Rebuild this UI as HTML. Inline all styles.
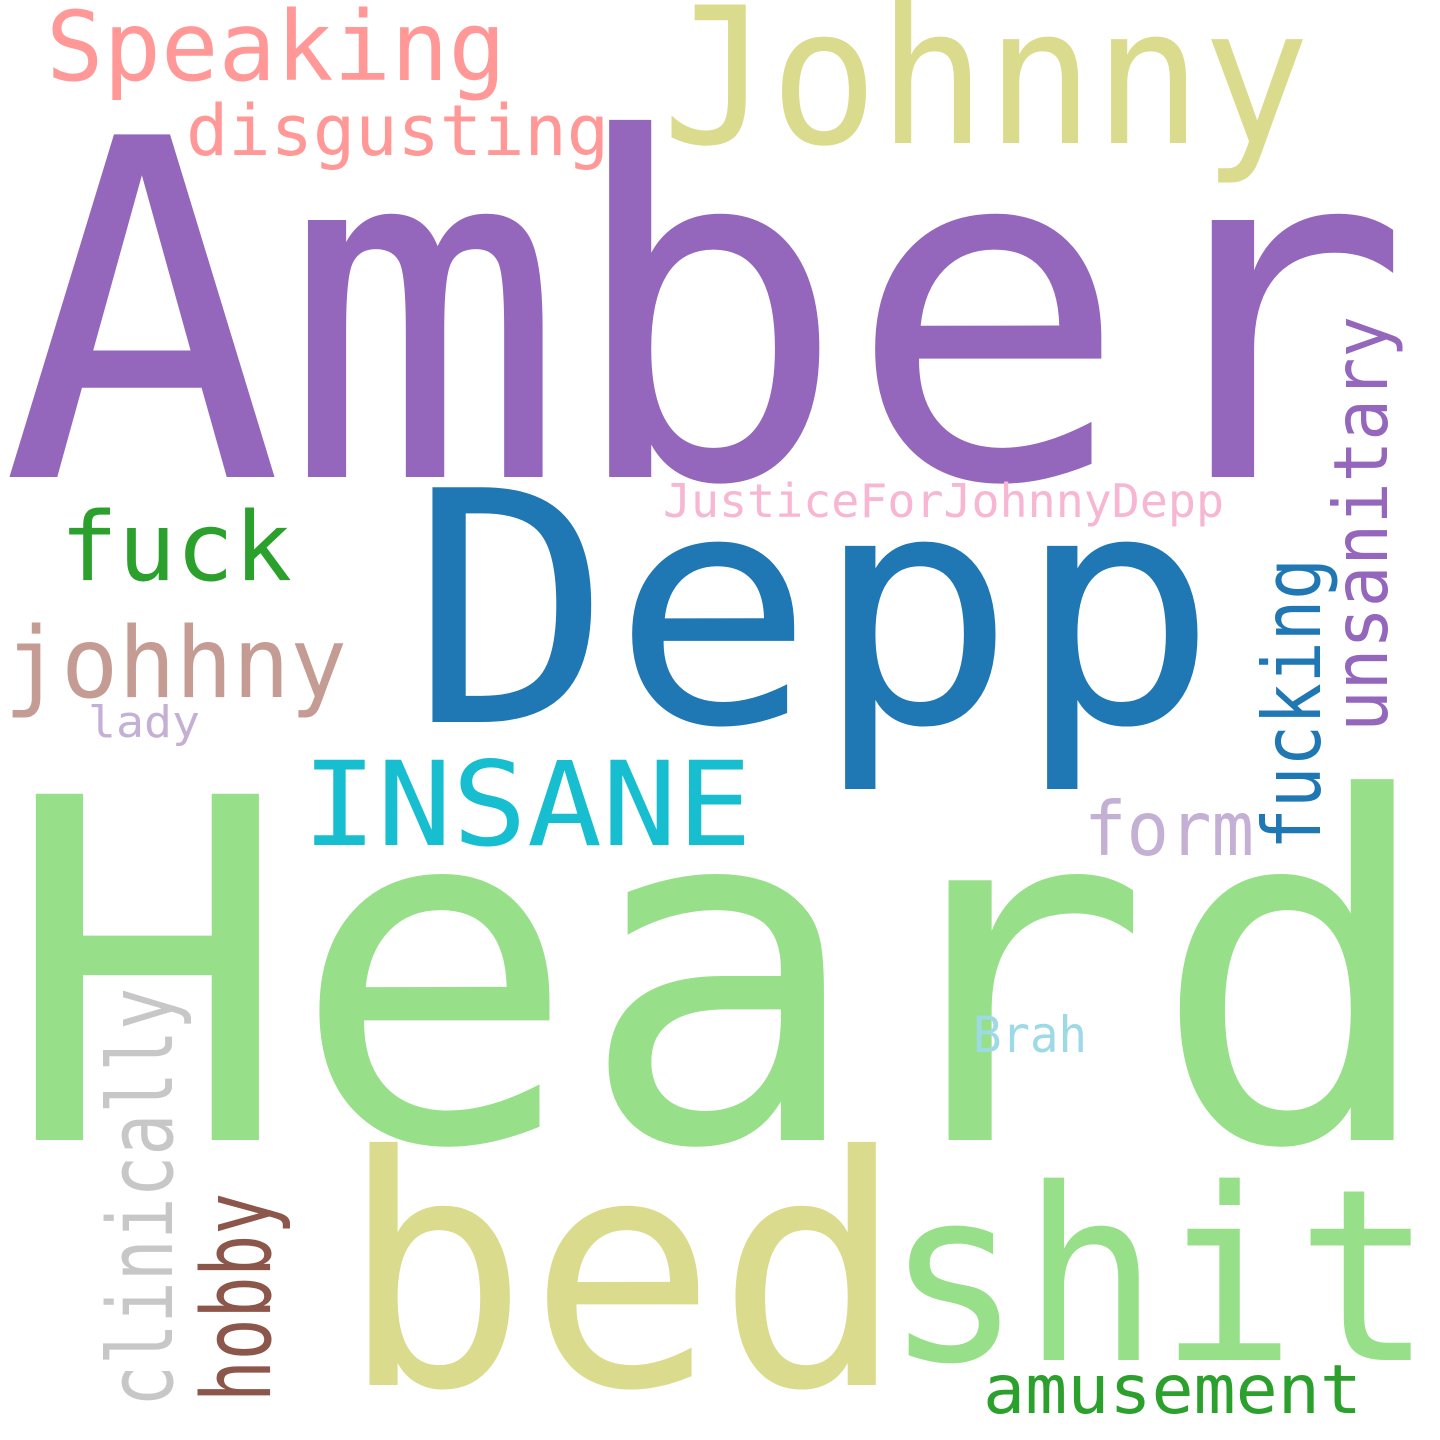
<!DOCTYPE html>
<html><head><meta charset="utf-8"><style>
html,body{margin:0;padding:0;background:#fff;}
svg{display:block;}
text{font-family:"DejaVu Sans Mono","Liberation Mono",monospace;}
</style></head><body>
<svg width="1440" height="1440" viewBox="0 0 1440 1440" xmlns="http://www.w3.org/2000/svg">
<rect width="1440" height="1440" fill="#fff"/>
<text x="1" y="477" font-size="470" fill="#9467bd" textLength="1410" lengthAdjust="spacingAndGlyphs">Amber</text>
<text x="4" y="1140" font-size="475" fill="#98df8a" textLength="1434" lengthAdjust="spacingAndGlyphs">Heard</text>
<text x="410" y="722" font-size="322" fill="#1f77b4" textLength="808" lengthAdjust="spacingAndGlyphs">Depp</text>
<text x="662" y="143" font-size="190" fill="#dbdb8d" textLength="648" lengthAdjust="spacingAndGlyphs">Johnny</text>
<text x="46" y="80" font-size="96" fill="#ff9896" textLength="460" lengthAdjust="spacingAndGlyphs">Speaking</text>
<text x="186" y="155" font-size="70" fill="#ff9896" textLength="423" lengthAdjust="spacingAndGlyphs">disgusting</text>
<text x="60" y="580" font-size="95" fill="#2ca02c" textLength="232" lengthAdjust="spacingAndGlyphs">fuck</text>
<text x="4" y="697" font-size="98" fill="#c49c94" textLength="343" lengthAdjust="spacingAndGlyphs">johhny</text>
<text x="88" y="737" font-size="44" fill="#c5b0d5" textLength="112" lengthAdjust="spacingAndGlyphs">lady</text>
<text x="302" y="845" font-size="117" fill="#17becf" textLength="450" lengthAdjust="spacingAndGlyphs">INSANE</text>
<text x="663" y="517" font-size="46" fill="#f7b6d2" textLength="561" lengthAdjust="spacingAndGlyphs">JusticeForJohnnyDepp</text>
<text x="1084" y="855" font-size="75" fill="#c5b0d5" textLength="170" lengthAdjust="spacingAndGlyphs">form</text>
<text transform="translate(1320,850) rotate(-90)" font-size="80" fill="#1f77b4" textLength="292" lengthAdjust="spacingAndGlyphs">fucking</text>
<text transform="translate(1387,732) rotate(-90)" font-size="75" fill="#9467bd" textLength="416" lengthAdjust="spacingAndGlyphs">unsanitary</text>
<text transform="translate(172,1407) rotate(-90)" font-size="90" fill="#c7c7c7" textLength="419" lengthAdjust="spacingAndGlyphs">clinically</text>
<text transform="translate(270,1402) rotate(-90)" font-size="95" fill="#8c564b" textLength="209" lengthAdjust="spacingAndGlyphs">hobby</text>
<text x="973" y="1052" font-size="50" fill="#9edae5" textLength="114" lengthAdjust="spacingAndGlyphs">Brah</text>
<text x="340" y="1385" font-size="320" fill="#dbdb8d" textLength="565" lengthAdjust="spacingAndGlyphs">bed</text>
<text x="885" y="1360" font-size="240" fill="#98df8a" textLength="548" lengthAdjust="spacingAndGlyphs">shit</text>
<text x="983" y="1413" font-size="68" fill="#2ca02c" textLength="379" lengthAdjust="spacingAndGlyphs">amusement</text>
</svg>
</body></html>
